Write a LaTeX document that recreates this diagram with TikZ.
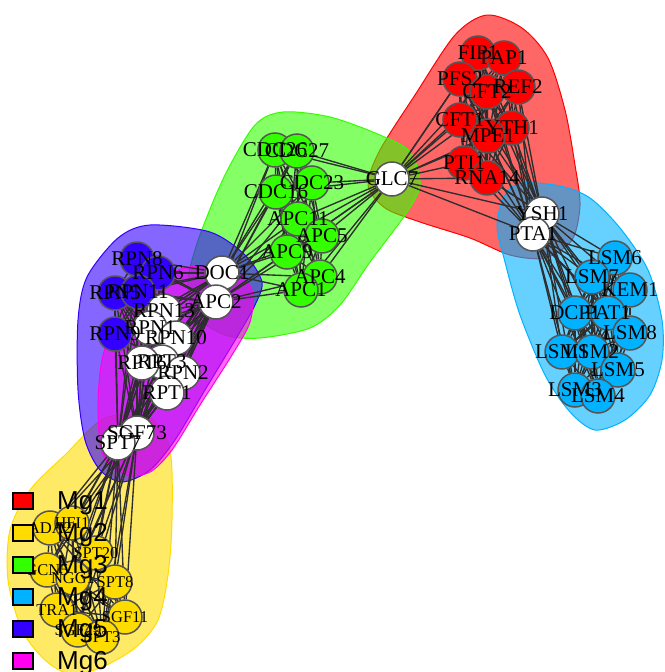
\documentclass[tikz,border=0pt]{standalone}
\usepackage{fontspec}
\setmainfont{Liberation Serif}
\newfontfamily\legendfont{Liberation Sans}
\definecolor{mgred}{HTML}{FF0000}
\definecolor{mgyellow}{HTML}{FFDC00}
\definecolor{mggreen}{HTML}{33FF00}
\definecolor{mgcyan}{HTML}{00B2FF}
\definecolor{mgblue}{HTML}{3300FF}
\definecolor{mgmagenta}{HTML}{FF00F0}
\definecolor{edgegray}{HTML}{2E2E2E}
\definecolor{rimgray}{HTML}{555555}
\pgfdeclarelayer{hulls}
\pgfdeclarelayer{edges}
\pgfsetlayers{hulls,edges,main}
% the members of each module
\newcommand{\mgone}{FIP1,PAP1,PFS2,CFT2,REF2,CFT1,YTH1,MPE1,PTI1,RNA14,GLC7,YSH1,PTA1}
\newcommand{\mgtwo}{SGF73,SPT7,ADA2,HFI1,SPT20,GCN5,NGG1,SPT8,TRA1,SGF11,SGF29,SPT3}
\newcommand{\mgthree}{CDC26,CDC27,CDC16,CDC23,APC11,APC5,APC9,APC4,APC1,GLC7,DOC1,APC2}
\newcommand{\mgfour}{YSH1,PTA1,LSM6,LSM7,KEM1,DCP1,PAT1,LSM8,LSM1,LSM2,LSM5,LSM3,LSM4}
\newcommand{\mgfive}{RPN8,RPN6,RPN5,RPN11,RPN9,DOC1,APC2,RPN13,RPN1,RPN10,RPT6,RPT3,RPN2,RPT1,SGF73,SPT7}
\newcommand{\mgsix}{DOC1,APC2,RPN13,RPN1,RPN10,RPT6,RPT3,RPN2,RPT1,SGF73,SPT7}
% every pair of members joined
\newcommand{\clique}[1]{%
  \foreach \a [count=\i] in #1 {\foreach \b [count=\j] in #1 {\ifnum\j>\i \draw[edge] (\a) -- (\b);\fi}}}

\begin{document}
\begin{tikzpicture}[x=1pt,y=-1pt,
  hull/.style={fill=#1,fill opacity=0.6,draw=#1,line width=1pt},
  edge/.style={draw=edgegray,line width=1.35pt},
  vertex/.style={circle,fill=#1,draw=rimgray,line width=1.5pt,minimum size=34pt,inner sep=0pt},
  lab/.style={font=\fontsize{21}{21}\selectfont,inner sep=0pt},
  smalllab/.style={font=\fontsize{16.5}{16.5}\selectfont,inner sep=0pt},
  key/.style={draw=black,line width=1.2pt,fill=#1,minimum width=20pt,minimum height=16pt,inner sep=0pt},
  keytext/.style={font=\legendfont\fontsize{26}{26}\selectfont,anchor=base west,inner sep=0pt}]
\useasboundingbox (0,0) rectangle (664,672);
% the module hulls
\begin{pgfonlayer}{hulls}
\filldraw[hull=mgred] plot[smooth cycle] coordinates {(487,15) (522,28) (548,58) (565,110) (575,165) (580,205) (572,240) (545,258) (510,255) (470,238) (420,222) (385,208) (368,185) (380,150) (415,95) (455,35)};
\filldraw[hull=mgyellow] plot[smooth cycle] coordinates {(105,418) (150,418) (170,450) (172,520) (168,575) (158,620) (135,648) (100,668) (70,674) (45,660) (22,630) (8,580) (10,530) (30,490) (65,455)};
\filldraw[hull=mggreen] plot[smooth cycle] coordinates {(283,112) (330,117) (380,135) (410,152) (420,185) (405,215) (370,262) (340,305) (310,328) (260,338) (225,335) (195,315) (188,280) (200,235) (225,175) (255,125)};
\filldraw[hull=mgcyan] plot[smooth cycle] coordinates {(522,183) (560,186) (590,198) (620,228) (648,270) (662,320) (662,360) (650,395) (625,420) (595,430) (570,412) (545,375) (520,315) (505,262) (497,225) (505,195)};
\filldraw[hull=mgblue] plot[smooth cycle] coordinates {(150,225) (210,232) (245,255) (262,282) (255,305) (240,332) (205,390) (175,440) (150,470) (122,482) (100,470) (85,440) (78,390) (78,320) (87,277) (118,238)};
\filldraw[hull=mgmagenta] plot[smooth cycle] coordinates {(195,266) (232,270) (252,290) (250,322) (232,355) (200,405) (172,450) (150,472) (125,475) (103,455) (98,410) (102,360) (118,315) (148,282)};
\end{pgfonlayer}
% the proteins
\foreach \n/\x/\y in {FIP1/478/53,PAP1/504/58,PFS2/460/79,CFT2/487/92,REF2/518/87,CFT1/460/120,YTH1/512/128,MPE1/488/136,PTI1/464/163,RNA14/487/178}
  \node[vertex=mgred] (\n) at (\x,\y) {};
\foreach \n/\x/\y in {CDC26/275/150,CDC27/297/151,CDC16/276/192,CDC23/312/183,APC11/298/219,APC5/322/236,APC9/287/252,APC4/320/277,APC1/301/290}
  \node[vertex=mggreen] (\n) at (\x,\y) {};
\foreach \n/\x/\y in {LSM6/615/258,LSM7/592/277,KEM1/630/290,DCP1/575/313,PAT1/608/313,LSM8/630/333,LSM1/562/352,LSM2/592/352,LSM5/618/370,LSM3/575/390,LSM4/598/396}
  \node[vertex=mgcyan] (\n) at (\x,\y) {};
\foreach \n/\x/\y in {RPN8/137/259,RPN6/158/273,RPN5/115/293,RPN11/138/292,RPN9/115/334}
  \node[vertex=mgblue] (\n) at (\x,\y) {};
\foreach \n/\x/\y in {ADA2/50/528,HFI1/72/523,SPT20/96/553,GCN5/47/570,NGG1/73/578,SPT8/115/582,TRA1/57/610,SGF11/125/617,SGF29/78/630,SPT3/102/637}
  \node[vertex=mgyellow] (\n) at (\x,\y) {};
\foreach \n/\x/\y in {GLC7/392/179,YSH1/542/214,PTA1/533/234,DOC1/222/273,APC2/216/302,RPN13/164/311,RPN1/150/328,RPN10/176/338,RPT3/162/362,RPT6/142/363,RPN2/183/373,RPT1/167/393,SGF73/137/433,SPT7/118/443}
  \node[vertex=white] (\n) at (\x,\y) {};
% the interactions
\begin{pgfonlayer}{edges}
\clique\mgone
\clique\mgtwo
\clique\mgthree
\clique\mgfour
\clique\mgfive
\clique\mgsix
\end{pgfonlayer}
% the labels
\foreach \n in {FIP1,PAP1,PFS2,CFT2,REF2,CFT1,YTH1,MPE1,PTI1,RNA14,CDC26,CDC27,CDC16,CDC23,APC11,APC5,APC9,APC4,APC1,LSM6,LSM7,KEM1,DCP1,PAT1,LSM8,LSM1,LSM2,LSM5,LSM3,LSM4,RPN8,RPN6,RPN5,RPN11,RPN9,GLC7,YSH1,PTA1,DOC1,APC2,RPN13,RPN1,RPN10,RPT3,RPT6,RPN2,RPT1,SGF73,SPT7}
  \node[lab] (l\n) at (\n) {\n};
\foreach \n in {ADA2,HFI1,SPT20,GCN5,NGG1,SPT8,TRA1,SGF11,SGF29,SPT3}
  \node[smalllab] (l\n) at (\n) {\n};
% the legend
\foreach \c/\t [count=\k] in {mgred/Mg1,mgyellow/Mg2,mggreen/Mg3,mgcyan/Mg4,mgblue/Mg5,mgmagenta/Mg6} {
  \node[key=\c] (key\k) at (23,469+32*\k) {};
  \node[keytext] (keytext\k) at (57,477+32*\k) {\t};
}
\end{tikzpicture}
\end{document}
